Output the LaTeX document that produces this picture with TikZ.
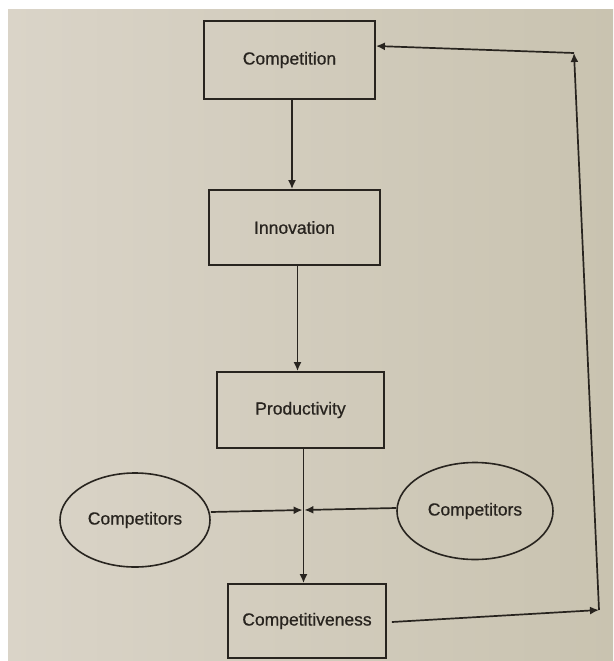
\documentclass[tikz,border=0pt]{standalone}
\usepackage{fontspec}
\setmainfont{Liberation Sans}
\newfontfamily\labelfont[FakeBold=0.6]{Liberation Sans}
\usetikzlibrary{arrows.meta,shapes.geometric}
\definecolor{ink}{HTML}{28241F}
\definecolor{pageL}{HTML}{DAD4C8}
\definecolor{pageR}{HTML}{C9C3B0}
\tikzset{
  box/.style={draw=ink, line width=1.8pt, rectangle, minimum width=#1, inner sep=0pt, text=ink, font=\labelfont\fontsize{17.5}{21}\selectfont},
  oval/.style={draw=ink, line width=1.6pt, ellipse, inner sep=0pt, text=ink, font=\labelfont\fontsize{17.5}{21}\selectfont},
  arr/.style={draw=ink, line width=1.7pt, -{Latex[length=9pt,width=8pt]}},
}
\begin{document}
\begin{tikzpicture}[x=1pt,y=-1pt]
\useasboundingbox (0,0) rectangle (613,661);
\fill[white] (0,0) rectangle (613,661);
\shade[left color=pageL, right color=pageR] (8,10) rectangle (613,661);
% boxes
\node[box=171pt, minimum height=78pt] (comp) at (289.5,60) {Competition};
\node[box=171pt, minimum height=75pt] (innov) at (294.5,227.5) {Innovation};
\node[box=167pt, minimum height=76pt] (prod) at (300.5,410) {Productivity};
\node[box=158pt, minimum height=74pt] (compv) at (307,621) {Competitiveness};
% ellipses
\node[oval, minimum width=150pt, minimum height=94pt] (left) at (135,520) {Competitors};
\node[oval, minimum width=156pt, minimum height=97pt] (right) at (475,511) {Competitors};
% helper coordinates
\coordinate (x1) at (292,0);
\coordinate (x2) at (297.5,0);
\coordinate (x3) at (303.5,0);
\coordinate (cross) at (303.5,510);
\coordinate (br) at (599,610);
\coordinate (tr) at (574,53);
% main chain
\draw[arr] (comp.south -| x1) -- (innov.north -| x1);
\draw[arr] (innov.south -| x2) -- (prod.north -| x2);
\draw[arr] (prod.south -| x3) -- (compv.north -| x3);
% competitors
\draw[arr] (left.east |- 0,512) -- ([xshift=-0.9pt]cross);
\draw[arr] (right.west |- 0,508) -- ([xshift=0.9pt]cross);
% feedback loop
\draw[arr] ([xshift=5pt,yshift=-1pt]compv.east) -- (br);
\draw[arr] (br) -- (tr);
\draw[arr] (tr) -- (comp.east |- 0,46);
\end{tikzpicture}
\end{document}
